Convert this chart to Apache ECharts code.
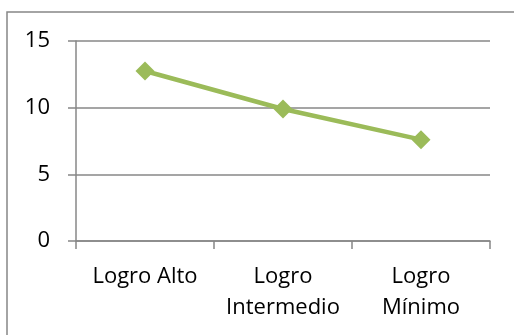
<!DOCTYPE html>
<html>
<head>
<meta charset="utf-8">
<script src="https://cdn.jsdelivr.net/npm/echarts@6/dist/echarts.min.js"></script>
<style>
  html, body { margin: 0; padding: 0; background: #ffffff; }
  #chart { width: 514px; height: 335px; }
</style>
</head>
<body>
<div id="chart"></div>
<script>
// Achievement levels and their scores
const categories = ['Logro Alto', 'Logro\nIntermedio', 'Logro\nMínimo'];
const values = [12.75, 9.9, 7.6];
const yTicks = { min: 0, max: 15, interval: 5 };

const axisGray = '#878787';
const fontFamily = '"Open Sans", "Noto Sans", sans-serif';

const chart = echarts.init(document.getElementById('chart'), null, { renderer: 'canvas' });

chart.setOption({
  animation: false,
  backgroundColor: '#ffffff',
  graphic: [{
    type: 'rect',
    shape: { x: 7, y: 12, width: 600, height: 400 },
    style: { fill: 'none', stroke: axisGray, lineWidth: 1.5 },
    silent: true
  }],
  grid: { left: 76, top: 41, right: 24, bottom: 94, containLabel: false },
  xAxis: {
    type: 'category',
    data: categories,
    boundaryGap: true,
    axisLine: { show: true, lineStyle: { color: axisGray, width: 1.5 } },
    axisTick: { show: true, length: 8, inside: false, alignWithLabel: false,
                lineStyle: { color: axisGray, width: 1.5 } },
    axisLabel: { color: '#000000', fontFamily: fontFamily, fontSize: 22,
                 lineHeight: 31, margin: 20, interval: 0 },
    splitLine: { show: false }
  },
  yAxis: {
    type: 'value',
    min: yTicks.min,
    max: yTicks.max,
    interval: yTicks.interval,
    axisLine: { show: true, lineStyle: { color: axisGray, width: 1.5 } },
    axisTick: { show: true, length: 8, lineStyle: { color: axisGray, width: 1.5 } },
    axisLabel: { color: '#000000', fontFamily: fontFamily, fontSize: 22, margin: 26 },
    splitLine: { show: true, lineStyle: { color: axisGray, width: 1.5 } }
  },
  series: [{
    type: 'line',
    data: values,
    symbol: 'diamond',
    symbolSize: 19,
    showAllSymbol: true,
    lineStyle: { color: '#9BBB59', width: 4.5 },
    itemStyle: { color: '#9BBB59', borderWidth: 0 },
    emphasis: { disabled: true },
    z: 3
  }]
});
</script>
</body>
</html>
